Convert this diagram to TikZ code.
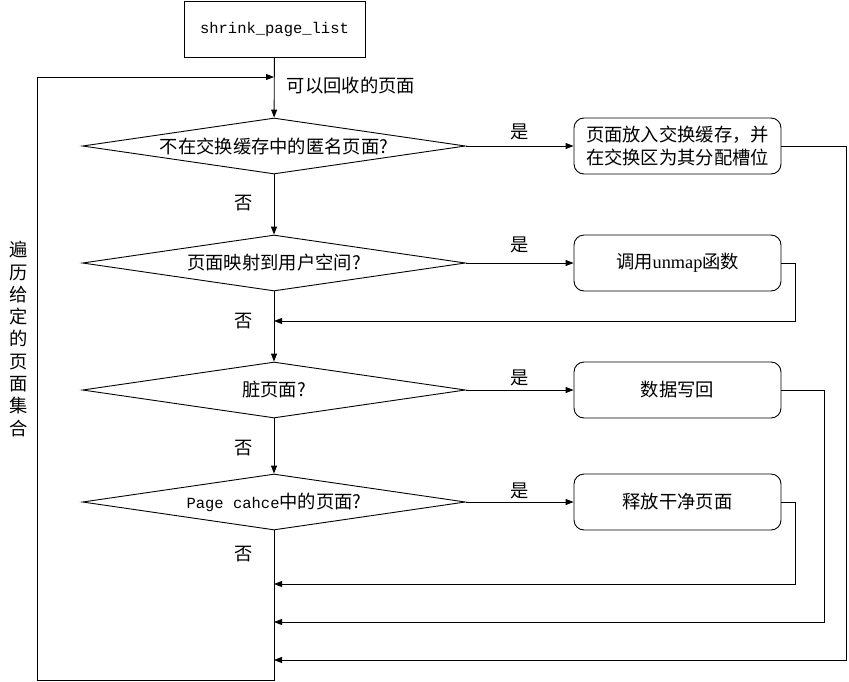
\documentclass[tikz,border=0pt]{standalone}
\usepackage{fontspec}
\usetikzlibrary{shapes.geometric,arrows.meta}
\newfontfamily\cjk{Noto Sans CJK SC}
\newfontfamily\mono{Liberation Mono}
\newfontfamily\lserif{Liberation Serif}

\begin{document}
\begin{tikzpicture}[x=1pt,y=-1pt,
  line width=0.9pt,
  every node/.style={font=\cjk\fontsize{18.3}{23}\selectfont},
  decision/.style={diamond, draw, aspect=6.84, minimum width=383pt,
    minimum height=56pt, inner sep=0pt},
  action/.style={rectangle, rounded corners=10pt, draw, minimum width=207pt,
    minimum height=56pt, inner sep=0pt, align=center},
  flow/.style={-{Triangle[length=8pt,width=6pt]}},
  codefont/.style={font=\mono\fontsize{15.5}{18}\selectfont}
]
% page area
\fill[white] (0,0) rectangle (849,681);
\useasboundingbox (0,0) rectangle (849,681);

% entry function
\node[draw, rectangle, minimum width=181pt, minimum height=56pt, inner sep=0pt,
  codefont] (start) at (274.5,29) {shrink\_page\_list};

% decisions
\node[decision] (d1) at (274,146) {不在交换缓存中的匿名页面?};
\node[decision] (d2) at (274,263) {页面映射到用户空间?};
\node[decision] (d3) at (274,390) {脏页面?};
\node[decision] (d4) at (274,502) {{\mono\fontsize{15.5}{18}\selectfont Page cahce}中的页面?};

% actions
\node[action] (b1) at (677.5,146) {页面放入交换缓存，并\\在交换区为其分配槽位};
\node[action] (b2) at (677.5,263) {调用{\lserif unmap}函数};
\node[action] (b3) at (677.5,390) {数据写回};
\node[action] (b4) at (677.5,502) {释放干净页面};

% labels
\node (recv) at (351,86) {可以回收的页面};
\node (yes1) at (520,132) {是};
\node (yes2) at (520,245) {是};
\node (yes3) at (520,378) {是};
\node (yes4) at (520,491) {是};
\node (no1) at (244,203) {否};
\node (no2) at (244,321) {否};
\node (no3) at (244,448) {否};
\node (no4) at (244,554) {否};
\node[align=center, font=\cjk\fontsize{18.3}{22.3}\selectfont] (loop) at (19,339)
  {遍\\历\\给\\定\\的\\页\\面\\集\\合};

% loop corners and merge points
\coordinate (top) at (274,77);
\coordinate (tl) at (37,77);
\coordinate (bl) at (37,680);
\coordinate (bot) at (274,680);
\coordinate (m2) at (274,321);
\coordinate (r4) at (274,584);
\coordinate (r3) at (274,622);
\coordinate (r1) at (274,660);

% main flow
\draw[flow] (start) -- (d1);
\draw[flow] (d1) -- (d2);
\draw[flow] (d2) -- (d3);
\draw[flow] (d3) -- (d4);
\draw (d4) -- (bot) -- (bl) -- (tl);
\draw[flow] (tl) -- (top);

% yes branches
\draw[flow] (d1) -- (b1);
\draw[flow] (d2) -- (b2);
\draw[flow] (d3) -- (b3);
\draw[flow] (d4) -- (b4);

% returns to the main line
\draw[flow] (b1.east) -- ++(65,0) |- (r1);
\draw[flow] (b2.east) -- ++(14,0) |- (m2);
\draw[flow] (b3.east) -- ++(43,0) |- (r3);
\draw[flow] (b4.east) -- ++(14,0) |- (r4);
\end{tikzpicture}
\end{document}
